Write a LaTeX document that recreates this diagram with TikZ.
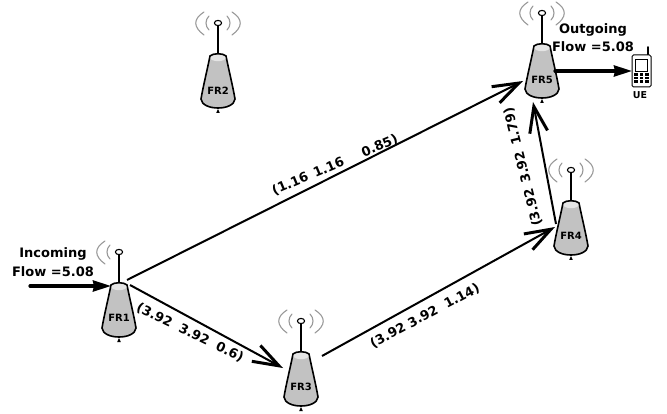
\documentclass[tikz,border=0pt]{standalone}
\usepackage{fontspec}
\setmainfont{DejaVu Sans}
\usetikzlibrary{arrows.meta,calc}
\definecolor{bodygray}{gray}{0.76}
\definecolor{wavegray}{gray}{0.6}
\tikzset{
  x=1pt,y=-1pt,
  wave/.style={draw=wavegray,line width=1.1pt,line cap=round},
  relaybody/.pic={
    \draw[line width=1.1pt] (0,-34) -- (0,-2);
    \draw[line width=1.1pt,fill=white] (0,-34) ellipse [x radius=3.6,y radius=2.6];
    \draw[line width=1.6pt,fill=bodygray] (-8,-1) .. controls (-5,-4) and (5,-4) .. (8,-1)
      .. controls (11,14) and (15,30) .. (17,42)
      .. controls (16,54) and (-16,54) .. (-17,42)
      .. controls (-15,30) and (-11,14) .. (-8,-1) -- cycle;
    \fill[white!90!black] (0,1) ellipse [x radius=7.5,y radius=3.2];
    \fill (-1.8,56) -- (1.8,56) -- (0,52) -- cycle;
  },
  leftwaves/.pic={
    \draw[wave] (-14,-45) .. controls (-25,-38) and (-25,-30) .. (-14,-22);
    \draw[wave] (-9,-41) .. controls (-13,-37) and (-13,-31) .. (-9,-27);
  },
  rightwaves/.pic={
    \draw[wave] (14,-45) .. controls (25,-38) and (25,-30) .. (14,-22);
    \draw[wave] (9,-41) .. controls (13,-37) and (13,-31) .. (9,-27);
  },
  relaylabel/.style={font=\bfseries\fontsize{10}{11}\selectfont,inner sep=0.5pt},
  flowtext/.style={font=\bfseries\fontsize{13}{18.5}\selectfont,align=center,inner sep=0pt},
  linktext/.style={font=\bfseries\fontsize{13}{15}\selectfont,inner sep=0pt},
  link/.style={line width=2pt,-{Straight Barb[length=26pt,width=18pt,line width=3pt]}},
  flow/.style={line width=3.2pt,line cap=round,-{Stealth[length=18pt,width=11pt,inset=1pt]}},
}
\begin{document}
\begin{tikzpicture}
\useasboundingbox (0,0) rectangle (667,414);
% relays
\pic at (119,286) {relaybody};
\pic at (119,286) {leftwaves};
\pic at (218,57) {relaybody};
\pic at (218,57) {leftwaves};
\pic at (218,57) {rightwaves};
\pic at (301,355) {relaybody};
\pic at (301,355) {leftwaves};
\pic at (301,355) {rightwaves};
\pic at (571,204) {relaybody};
\pic at (571,204) {leftwaves};
\pic at (571,204) {rightwaves};
\pic at (542,47) {relaybody};
\pic at (542,47) {leftwaves};
\pic at (542,47) {rightwaves};
\node[relaylabel] (FR1) at (119,318) {FR1};
\node[relaylabel] (FR2) at (218,91) {FR2};
\node[relaylabel] (FR3) at (301,387) {FR3};
\node[relaylabel] (FR4) at (571,236) {FR4};
\node[relaylabel] (FR5) at (542,80) {FR5};
% phone
\draw[line width=1.6pt,line cap=round] (648,55) -- (648,47);
\draw[line width=1pt,fill=white,rounded corners=1.5pt] (632,55) rectangle (651,87);
\draw[line width=0.9pt,fill=white] (635.5,59) rectangle (647.5,71);
\foreach \r in {74.5,78,81.5}{
  \foreach \c in {636,641.5,647}{
    \fill (\c-1.8,\r-1.1) rectangle (\c+1.8,\r+1.1);
  }
}
\node[font=\bfseries\fontsize{9.5}{11}\selectfont,inner sep=0pt] (UE) at (640,95) {UE};
\coordinate (inStart) at (30,286);
\coordinate (outEnd) at (632,71);
% connectors
\draw[link] ($(FR1)+(8,-38)$) -- ($(FR5)+(-19,1)$);
\draw[link] ($(FR1)+(11,-33)$) -- ($(FR3)+(-18,-19)$);
\draw[link] ($(FR3)+(21,-31)$) -- ($(FR4)+(-16,-9)$);
\draw[link] ($(FR4)+(-15,-12)$) -- ($(FR5)+(-9,22)$);
\draw[flow] (inStart) -- ($(FR1)+(-8,-32)$);
\draw[flow] ($(FR5)+(13,-9)$) -- (outEnd);
% labels
\node[flowtext] at (53,262) {Incoming\\Flow =5.08};
\node[flowtext] at (593,37.5) {Outgoing\\Flow =5.08};
\node[linktext,rotate=23] at (335,165) {(1.16\ \,1.16\ \ \ \ \,0.85)};
\node[linktext,rotate=-26] at (190,333) {(3.92\ \ 3.92\ \ 0.6)};
\node[linktext,rotate=28] at (425,316) {(3.92 3.92\ \ 1.14)};
\node[linktext,rotate=104] at (523,167) {(3.92\,\ 3.92\,\ 1.79)};
\end{tikzpicture}
\end{document}
